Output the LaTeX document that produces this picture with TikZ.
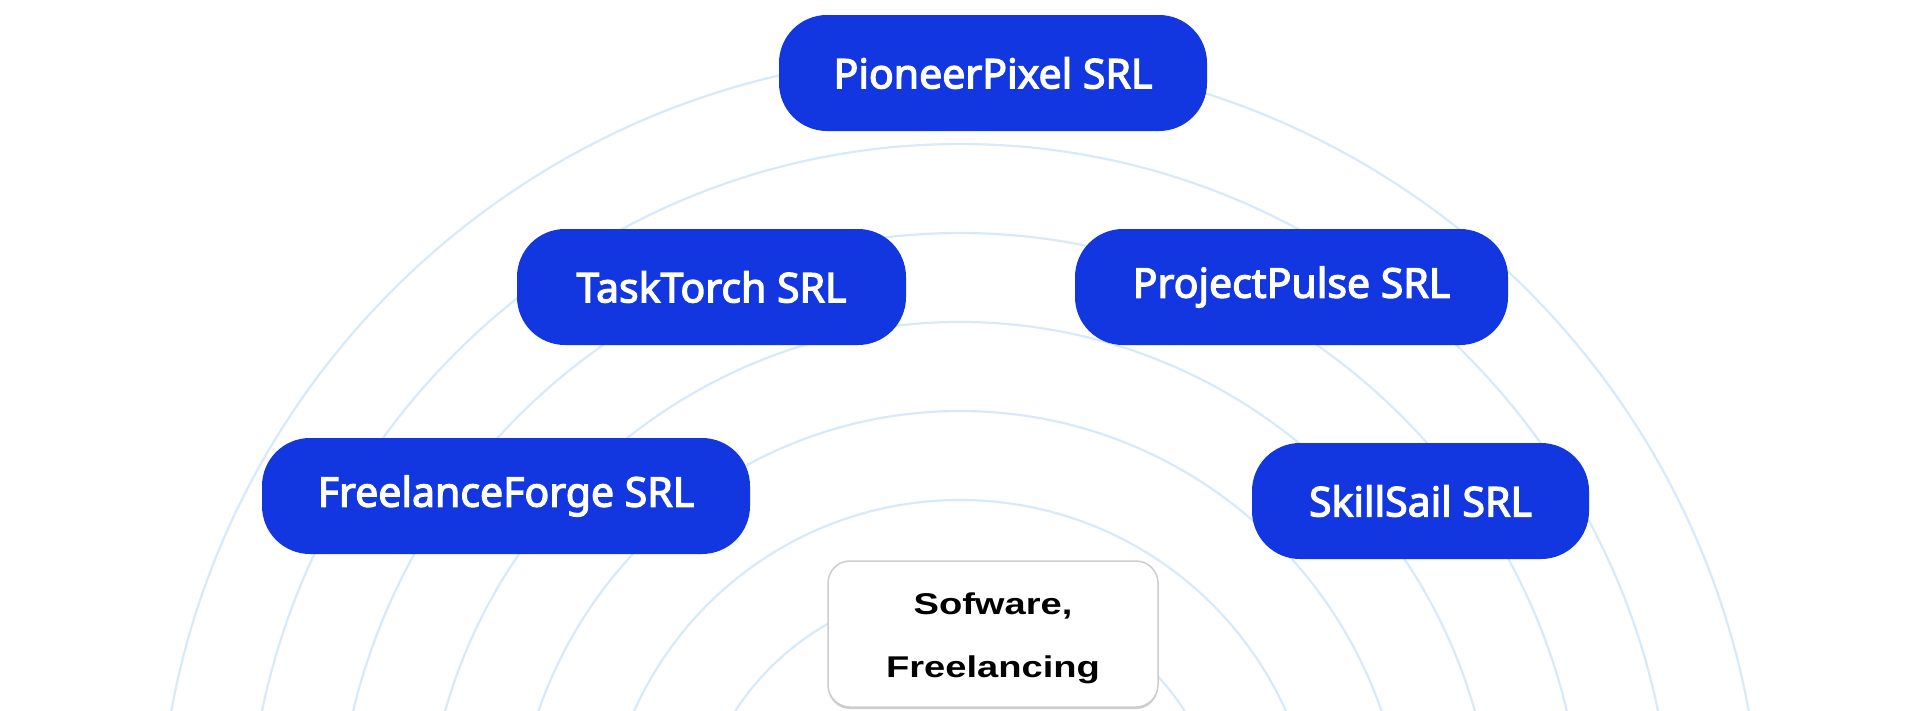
\documentclass[tikz,border=0pt]{standalone}
\usepackage{fontspec}
\usetikzlibrary{shadows}
\newfontfamily\boxfont{Noto Sans}[FakeBold=3]
\newfontfamily\catfont{Liberation Sans}
\definecolor{ringblue}{RGB}{216,234,249}
\definecolor{boxblue}{RGB}{18,55,224}
\definecolor{graybd}{RGB}{205,205,205}
\begin{document}
\begin{tikzpicture}[x=1pt,y=-1pt,
  company/.style={fill=boxblue, draw=none, rounded corners=48pt, text=white,
    font=\boxfont\fontsize{41}{49}\selectfont, minimum height=116pt, inner sep=0pt},
  ring/.style={draw=ringblue, line width=2.2pt},
  category/.style={fill=white, draw=graybd, line width=1.5pt, rounded corners=22pt,
    minimum width=330pt, minimum height=146pt, inner sep=0pt,
    drop shadow={shadow xshift=0pt, shadow yshift=-2pt, fill=graybd, opacity=1}},
  cattext/.style={align=center, inner sep=0pt,
    font=\catfont\bfseries\fontsize{30}{63}\selectfont}]
\useasboundingbox (0,0) rectangle (1920,710);
\begin{scope}
  \clip (0,0) rectangle (1920,710);
  \foreach \r in {802,713,624,535,446,357,268}
    \draw[ring] (960,857) circle[radius=\r];
\end{scope}
\node[company, minimum width=428pt] (pioneer) at (993,73) {PioneerPixel SRL};
\node[company, minimum width=389pt] (task) at (711.5,287) {TaskTorch SRL};
\node[company, minimum width=433pt] (project) at (1291.5,287) {ProjectPulse SRL};
\node[company, minimum width=488pt] (freelance) at (506,496) {FreelanceForge SRL};
\node[company, minimum width=337pt] (skill) at (1420.5,501) {SkillSail SRL};
\node[category] (cat) at (993,634) {};
\node[cattext] (cattxt) at (993,638.5) {\scalebox{1.27}[1]{Sofware,}\\\scalebox{1.27}[1]{Freelancing}};
\end{tikzpicture}
\end{document}
